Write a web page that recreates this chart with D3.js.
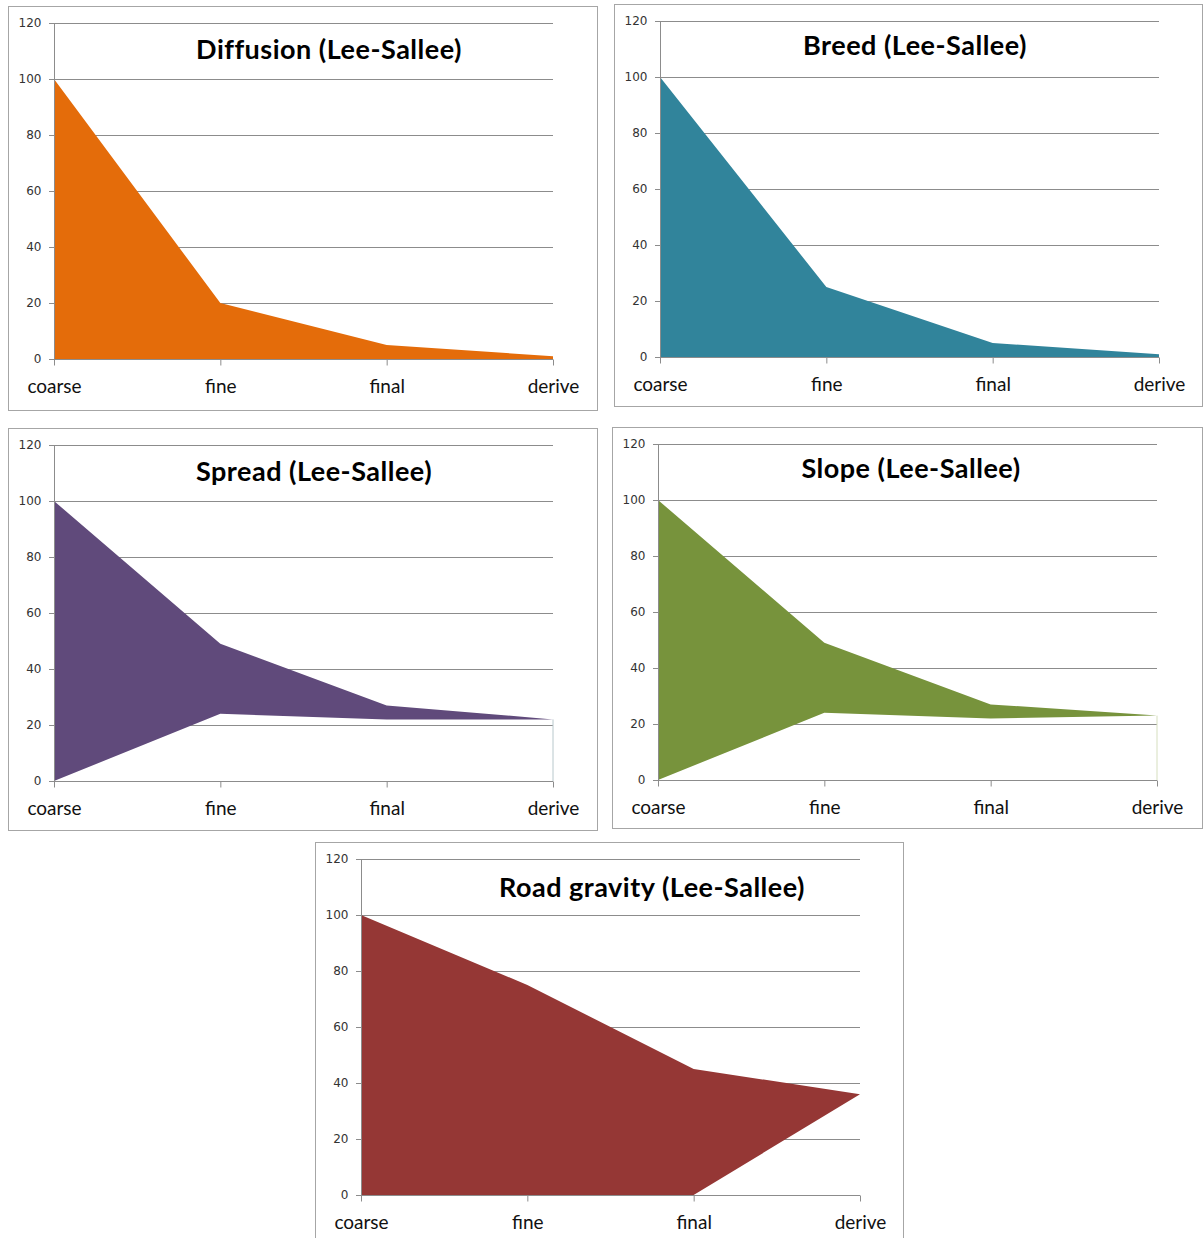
<!DOCTYPE html>
<html>
<head>
<meta charset="utf-8">
<script src="https://cdn.jsdelivr.net/npm/d3@7"></script>
<style>
  html, body { margin: 0; padding: 0; background: #ffffff; }
  svg { display: block; }
</style>
</head>
<body>
<svg id="chart" width="1203" height="1238"></svg>
<script>
// ---------- data ----------
const categories = ["coarse", "fine", "final", "derive"];
const yTicks = [0, 20, 40, 60, 80, 100, 120];

const diffusionUpper = [100, 20, 5, 1];
const diffusionLower = [0, 0, 0, 0];
const breedUpper = [100, 25, 5, 1];
const breedLower = [0, 0, 0, 0];
const spreadUpper = [100, 49, 27, 22];
const spreadLower = [0, 24, 22, 22];
const slopeUpper = [100, 49, 27, 23];
const slopeLower = [0, 24, 22, 23];
const roadUpper = [100, 75, 45, 36];
const roadLower = [0, 0, 0, 36];

const titles = ["Diffusion (Lee-Sallee)", "Breed (Lee-Sallee)", "Spread (Lee-Sallee)",
                "Slope (Lee-Sallee)", "Road gravity (Lee-Sallee)"];

// ---------- layout ----------
const panels = [
  { title: titles[0], upper: diffusionUpper, lower: diffusionLower, color: "#E46C0A", edge: null,
    fx: 8, fy: 6, fw: 589, fh: 404, tx: 321, ty: 42 },
  { title: titles[1], upper: breedUpper, lower: breedLower, color: "#31849B", edge: null,
    fx: 614, fy: 4, fw: 588, fh: 402, tx: 301, ty: 40 },
  { title: titles[2], upper: spreadUpper, lower: spreadLower, color: "#604A7B", edge: "#b8c8cc",
    fx: 8, fy: 428, fw: 589, fh: 402, tx: 306, ty: 42 },
  { title: titles[3], upper: slopeUpper, lower: slopeLower, color: "#77933C", edge: "#d6dfbf",
    fx: 612, fy: 427, fw: 590, fh: 401, tx: 299, ty: 40 },
  { title: titles[4], upper: roadUpper, lower: roadLower, color: "#953735", edge: null,
    fx: 315, fy: 842, fw: 588, fh: 420, tx: 337, ty: 44 }
];

const M = { left: 46, top: 17, w: 499, h: 336 };
const svg = d3.select("#chart");

panels.forEach(p => {
  const g = svg.append("g").attr("transform", `translate(${p.fx},${p.fy})`);

  g.append("rect")
    .attr("x", 0.5).attr("y", 0.5)
    .attr("width", p.fw).attr("height", p.fh)
    .attr("fill", "#ffffff")
    .attr("stroke", "#a6a6a6").attr("stroke-width", 1);

  const x = d3.scalePoint().domain(categories).range([M.left, M.left + M.w]);
  const y = d3.scaleLinear().domain([0, 120]).range([M.top + M.h, M.top]);

  // gridlines
  g.append("g").selectAll("line").data(yTicks.filter(t => t > 0)).join("line")
    .attr("x1", M.left - 5).attr("x2", M.left + M.w)
    .attr("y1", d => Math.round(y(d)) + 0.5).attr("y2", d => Math.round(y(d)) + 0.5)
    .attr("stroke", "#8c8c8c").attr("stroke-width", 1);

  // area
  const idx = d3.range(categories.length);
  const area = d3.area()
    .x(i => x(categories[i]))
    .y0(i => y(p.lower[i]))
    .y1(i => y(p.upper[i]));
  g.append("path").datum(idx).attr("d", area).attr("fill", p.color);

  if (p.edge) {
    const last = categories.length - 1;
    g.append("line")
      .attr("x1", x(categories[last])).attr("x2", x(categories[last]))
      .attr("y1", y(p.lower[last])).attr("y2", y(0))
      .attr("stroke", p.edge).attr("stroke-width", 1);
  }

  // y axis
  const yAxis = d3.axisLeft(y).tickValues(yTicks).tickSize(5).tickPadding(8);
  const ya = g.append("g").attr("transform", `translate(${M.left + 0.5},0)`).call(yAxis);
  ya.select(".domain").attr("stroke", "#8c8c8c").attr("d", `M0,${M.top}V${M.top + M.h}`);
  ya.selectAll(".tick line").attr("stroke", "#8c8c8c");
  ya.selectAll(".tick text")
    .attr("font-family", "'DejaVu Sans', sans-serif").attr("font-size", 12).attr("fill", "#333");

  // x axis
  const xAxis = d3.axisBottom(x).tickSize(6).tickPadding(14);
  const xa = g.append("g").attr("transform", `translate(0,${M.top + M.h + 0.5})`).call(xAxis);
  xa.select(".domain").attr("stroke", "#8c8c8c").attr("d", `M${M.left - 5},0H${M.left + M.w}`);
  xa.selectAll(".tick line").attr("stroke", "#8c8c8c");
  xa.selectAll(".tick text")
    .attr("font-family", "Lato, 'Open Sans', sans-serif").attr("font-size", 19).attr("fill", "#111");

  // title
  g.append("text")
    .attr("x", p.tx).attr("y", p.ty)
    .attr("text-anchor", "middle").attr("dominant-baseline", "central")
    .attr("font-family", "Lato, 'Open Sans', sans-serif").attr("font-weight", 700)
    .attr("font-size", 27).attr("letter-spacing", 0.5).attr("fill", "#000")
    .text(p.title);
});
</script>
</body>
</html>
